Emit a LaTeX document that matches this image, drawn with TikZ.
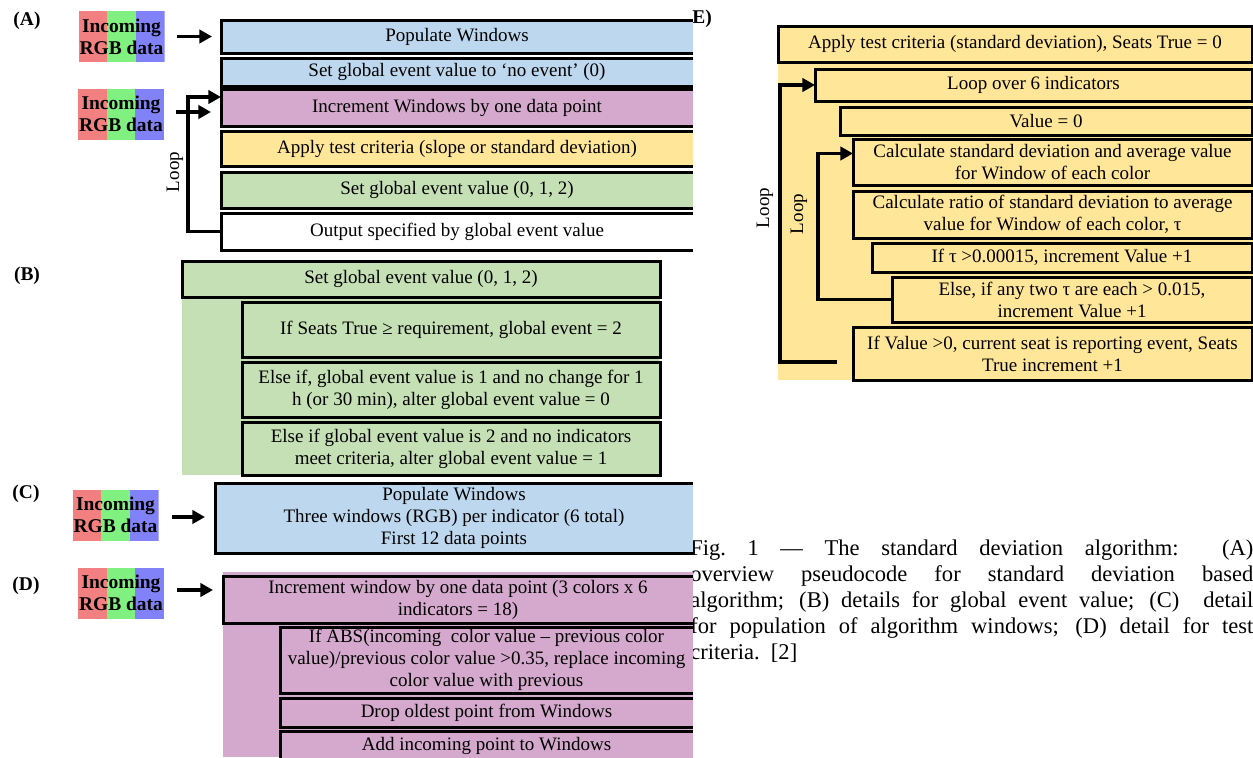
\documentclass[tikz,border=0pt]{standalone}
\usepackage{fontspec}
\setmainfont{Liberation Serif}
\usetikzlibrary{arrows.meta,calc}
\definecolor{cblue}{HTML}{BDD7EE}
\definecolor{cpurp}{HTML}{D5A9CD}
\definecolor{cyell}{HTML}{FFE699}
\definecolor{cgreen}{HTML}{C5E0B4}
\definecolor{rgbR}{HTML}{F28080}
\definecolor{rgbG}{HTML}{80F080}
\definecolor{rgbB}{HTML}{8282F8}
\newcommand\boxfont{\fontsize{14.25pt}{16.5pt}\selectfont}
\newcommand\capfont{\fontsize{16.9pt}{19.5pt}\selectfont}
\newcommand\rgbfont{\bfseries\fontsize{14.6pt}{16.5pt}\selectfont}
\newcommand\lblfont{\bfseries\fontsize{14.6pt}{16.5pt}\selectfont}
\tikzset{
  bx/.style={inner sep=0pt, outer sep=0pt, align=center, font=\boxfont, anchor=north west},
  bd/.style={line width=2.25pt, line join=miter},
  arr/.style={line width=2.6pt, line join=miter, -{Triangle[length=9.5pt,width=10pt]}},
  lbl/.style={font=\lblfont, inner sep=0pt},
  looptxt/.style={font=\boxfont, rotate=90, inner sep=0pt},
  rgb/.style={minimum width=64.5pt, minimum height=38.25pt, inner sep=0pt, align=center, font=\rgbfont,
    path picture={
      \fill[rgbR] (path picture bounding box.north west) rectangle ($(path picture bounding box.south west)!0.3333!(path picture bounding box.south east)$);
      \fill[rgbG] ($(path picture bounding box.north west)!0.3333!(path picture bounding box.north east)$) rectangle ($(path picture bounding box.south west)!0.6667!(path picture bounding box.south east)$);
      \fill[rgbB] ($(path picture bounding box.north west)!0.6667!(path picture bounding box.north east)$) rectangle (path picture bounding box.south east);
    }},
  bgfill/.style={inner sep=0pt, outer sep=0pt, anchor=north west}
}
\newcommand\bbox[7]{\node[bx, fill=#6, minimum width={(#4-#2)*0.75pt}, minimum height={(#5-#3)*0.75pt}] (#1) at (#2,#3) {#7};}
\newcommand\obord[1]{\draw[bd] (#1.north east) -| (#1.south west) -- (#1.south east);}
\newcommand\fbord[1]{\draw[bd] (#1.north west) rectangle (#1.south east);}
\begin{document}
\begin{tikzpicture}[x=0.75pt,y=-0.75pt]
\useasboundingbox (0,0) rectangle (1253,757);
\fill[white] (0,0) rectangle (1253,757);

% caption (drawn first, partly under the boxes)
\node[anchor=north west, text width=422.25pt, align=justify, font=\capfont, inner sep=0pt] (cap) at (690,540)
 {Fig.~1 — The standard deviation algorithm:~~(A)\linebreak
  overview pseudocode for standard deviation based\linebreak
  algorithm; (B) details for global event value; (C)~~detail\linebreak
  for population of algorithm windows; (D) detail for test\linebreak
  criteria.~~[2]};

% labels
\node[lbl] (labA) at (27,21) {(A)};
\node[lbl] (labB) at (27,276) {(B)};
\node[lbl] (labC) at (26,494) {(C)};
\node[lbl] (labD) at (26,586) {(D)};
\node[lbl] (labE) at (702,19) {E)};

% ---------- Panel A ----------
\node[rgb] (rgbA1) at (121.5,36.5) {Incoming\\RGB data};
\node[rgb] (rgbA2) at (121,114) {Incoming\\RGB data};
\bbox{popA}{221}{20}{693}{53}{cblue}{Populate Windows}
\bbox{setA}{221}{58}{693}{86}{cblue}{Set global event value to ‘no event’ (0)}
\bbox{incA}{221}{89}{693}{126}{cpurp}{Increment Windows by one data point}
\bbox{appA}{221}{131}{693}{166}{cyell}{Apply test criteria (slope or standard deviation)}
\bbox{gevA}{221}{172}{693}{208}{cgreen}{Set global event value (0, 1, 2)}
\bbox{outA}{221}{213}{693}{250}{white}{Output specified by global event value}
\obord{popA}\obord{setA}\obord{incA}\obord{appA}\obord{gevA}\obord{outA}
\draw[arr] ($(rgbA1.east)+(12,0)$) -- ($(popA.west)+(-9,0)$);
\draw[arr] ($(rgbA2.east)+(12,-2)$) -- ($(incA.west)+(-10,4.5)$);
\draw[arr] (outA.west) -- ++(-33,0) |- ($(incA.north west)+(0,8)$);
\node[looptxt] (loopA) at (175,172) {Loop};

% ---------- Panel B ----------
\node[bgfill, fill=cgreen, minimum width={478*0.75pt}, minimum height={214*0.75pt}] (bgB) at (182,261) {};
\bbox{gevB}{182}{261}{660}{297}{cgreen}{Set global event value (0, 1, 2)}
\bbox{b1}{242}{302}{660}{357}{cgreen}{If Seats True ≥ requirement, global event = 2}
\bbox{b2}{242}{362}{660}{417}{cgreen}{Else if, global event value is 1 and no change for 1\\h (or 30 min), alter global event value = 0}
\bbox{b3}{242}{422}{660}{475}{cgreen}{Else if global event value is 2 and no indicators\\meet criteria, alter global event value = 1}
\fbord{gevB}\fbord{b1}\fbord{b2}\fbord{b3}

% ---------- Panel C ----------
\node[rgb] (rgbC) at (115.5,515) {Incoming\\RGB data};
\bbox{popC}{215}{483}{693}{553}{cblue}{Populate Windows\\Three windows (RGB) per indicator (6 total)\\First 12 data points}
\obord{popC}
\draw[arr] ($(rgbC.east)+(13,2)$) -- ($(popC.west)+(-10,-1)$);

% ---------- Panel D ----------
\node[rgb] (rgbD) at (121,593) {Incoming\\RGB data};
\node[bgfill, fill=cpurp, minimum width={470*0.75pt}, minimum height={185*0.75pt}] (bgD) at (223,572) {};
\bbox{incD}{223}{576}{693}{623}{cpurp}{Increment window by one data point (3 colors x 6\\indicators = 18)}
\bbox{absD}{280}{627}{693}{693}{cpurp}{If ABS(incoming~ color value – previous color\\value)/previous color value >0.35, replace incoming\\color value with previous}
\bbox{dropD}{280}{698}{693}{727}{cpurp}{Drop oldest point from Windows}
\bbox{addD}{280}{731}{693}{760}{cpurp}{Add incoming point to Windows}
\obord{incD}\obord{absD}\obord{dropD}\obord{addD}
\draw[arr] ($(rgbD.east)+(13,-3)$) -- ($(incD.west)+(-10,-9.5)$);

% ---------- Panel E ----------
\node[bgfill, fill=cyell, minimum width={475*0.75pt}, minimum height={354*0.75pt}] (bgE) at (778,26) {};
\bbox{e1}{778}{26}{1252}{62}{cyell}{Apply test criteria (standard deviation), Seats True = 0}
\bbox{e2}{815}{69}{1252}{101}{cyell}{Loop over 6 indicators}
\bbox{e3}{840}{107}{1252}{135}{cyell}{Value = 0}
\bbox{e4}{853}{139}{1252}{185}{cyell}{Calculate standard deviation and average value\\for Window of each color}
\bbox{e5}{853}{191}{1252}{238}{cyell}{Calculate ratio of standard deviation to average\\value for Window of each color, τ}
\bbox{e6}{872}{243}{1252}{272}{cyell}{If τ >0.00015, increment Value +1}
\bbox{e7}{892}{277}{1252}{322}{cyell}{Else, if any two τ are each > 0.015,\\increment Value +1}
\bbox{e8}{853}{327}{1252}{380}{cyell}{If Value >0, current seat is reporting event, Seats\\True increment +1}
\fbord{e1}\fbord{e2}\fbord{e3}\fbord{e4}\fbord{e5}\fbord{e6}\fbord{e7}\fbord{e8}
\coordinate (eOutEnd) at ($(e8.west)+(-16,8.5)$);
\draw[arr] (eOutEnd) -- ++(-57,0) |- (e2.west);
\draw[arr] (e7.west) -- ++(-74,0) |- ($(e4.west)+(0,-8.5)$);
\node[looptxt] (loopE1) at (765,208) {Loop};
\node[looptxt] (loopE2) at (799,214) {Loop};
\end{tikzpicture}
\end{document}
